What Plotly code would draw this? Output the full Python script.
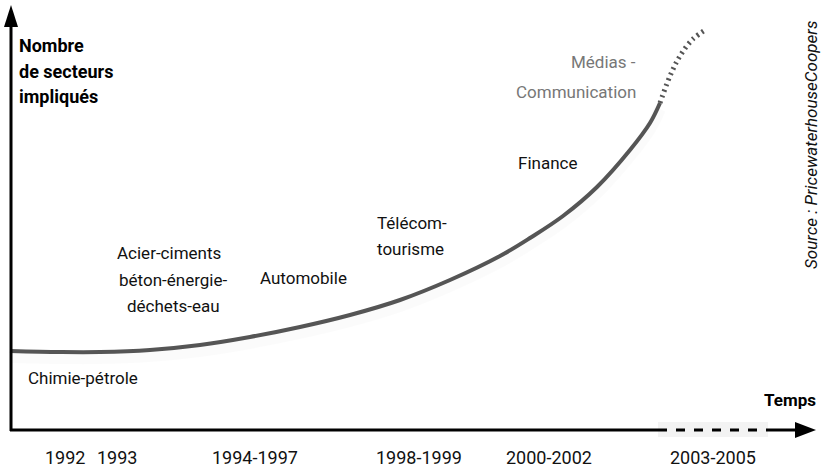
import plotly.graph_objects as go

# courbe conceptuelle (repère en pixels du dessin, y vers le bas)
curve_x = [10, 60, 100, 150, 200, 250, 300, 350, 400, 450, 500, 530, 563, 597, 630, 650, 660]
curve_y = [351, 352, 352, 350, 345, 337, 327, 315, 300, 280, 256, 238, 216, 187, 150, 123, 103]
proj_x = [660, 670, 680, 693, 707]
proj_y = [103, 76, 56, 39, 29]

periods = ["1992", "1993", "1994-1997", "1998-1999", "2000-2002", "2003-2005"]
period_x = [65, 117, 255, 419, 549, 713]

# secteurs : une entrée par ligne de texte
sector_lines = ["Chimie-pétrole", "Acier-ciments", "béton-énergie-", "déchets-eau", "Automobile",
                "Finance"]
sector_x = [83, 169, 173, 173, 303, 547]
sector_y = [378, 253, 280, 306, 278, 163]
telecom_lines = ["Télécom-", "tourisme"]
telecom_y = [223, 249]
media_lines = ["Médias -", "Communication"]
media_y = [62, 92]
title_lines = ["Nombre", "de secteurs", "impliqués"]
title_y = [45, 71, 96]

FONT = "Roboto, Arial, sans-serif"
AXIS_Y = 430
SIZE = 17

fig = go.Figure()

# ombre légère sous la courbe
fig.add_trace(go.Scatter(x=curve_x, y=[v + 6 for v in curve_y], mode='lines', line_shape='spline',
                         line=dict(color='rgba(0,0,0,0.015)', width=12), hoverinfo='skip'))
fig.add_trace(go.Scatter(x=curve_x, y=curve_y, mode='lines', line_shape='spline',
                         line=dict(color='#555555', width=4), hoverinfo='skip'))
fig.add_trace(go.Scatter(x=proj_x, y=proj_y, mode='lines', line_shape='spline',
                         line=dict(color='#555555', width=5, dash='2px,4px'), hoverinfo='skip'))

# axes dessinés à la main
shapes = [
    dict(type='rect', x0=658, x1=768, y0=422, y1=437, fillcolor='#f3f3f3', line_width=0, layer='below'),
    dict(type='line', x0=10, x1=658, y0=AXIS_Y, y1=AXIS_Y, line=dict(color='black', width=3)),
    dict(type='line', x0=658, x1=768, y0=AXIS_Y, y1=AXIS_Y, line=dict(color='black', width=3, dash='dash')),
    dict(type='line', x0=768, x1=797, y0=AXIS_Y, y1=AXIS_Y, line=dict(color='black', width=3)),
    dict(type='path', path=f'M 795 {AXIS_Y-8} L 816 {AXIS_Y} L 795 {AXIS_Y+8} Z',
         fillcolor='black', line_width=0),
    dict(type='line', x0=11, x1=11, y0=AXIS_Y + 1, y1=25, line=dict(color='black', width=3)),
    dict(type='path', path='M 4 27 L 11 5 L 18 27 Z', fillcolor='black', line_width=0),
]

annotations = []
for lab, x in zip(periods, period_x):
    annotations.append(dict(x=x, y=457, text=lab, showarrow=False,
                            font=dict(size=18, color='#111')))
for lab, x, y in zip(sector_lines, sector_x, sector_y):
    annotations.append(dict(x=x, y=y, text=lab, showarrow=False,
                            font=dict(size=SIZE, color='#111')))
for lab, y in zip(telecom_lines, telecom_y):
    annotations.append(dict(x=375, y=y, text=lab, showarrow=False, xanchor='left',
                            font=dict(size=SIZE, color='#111')))
for lab, y in zip(media_lines, media_y):
    annotations.append(dict(x=638, y=y, text=lab, showarrow=False, xanchor='right',
                            font=dict(size=SIZE, color='#777')))
for lab, y in zip(title_lines, title_y):
    annotations.append(dict(x=17, y=y, text=f"<b>{lab}</b>", showarrow=False, xanchor='left',
                            font=dict(size=18, color='black')))
annotations += [
    dict(x=818, y=400, text="<b>Temps</b>", showarrow=False, xanchor='right',
         font=dict(size=SIZE, color='black')),
    dict(x=811, y=145, text="<i>Source : PricewaterhouseCoopers</i>", showarrow=False, textangle=-90,
         font=dict(size=17, color='#111')),
]

fig.update_layout(
    width=822, height=469,
    margin=dict(l=0, r=0, t=0, b=0),
    plot_bgcolor='white', paper_bgcolor='white',
    showlegend=False,
    font=dict(family=FONT),
    xaxis=dict(range=[0, 822], visible=False, fixedrange=True),
    yaxis=dict(range=[469, 0], visible=False, fixedrange=True),
    shapes=shapes,
    annotations=annotations,
)

# pas de marge de page, ni de barres de défilement, ni de barre d'outils
fig.write_html("out.html", config={'displayModeBar': False},
               post_script="document.body.style.margin='0';document.body.style.overflow='hidden';")
